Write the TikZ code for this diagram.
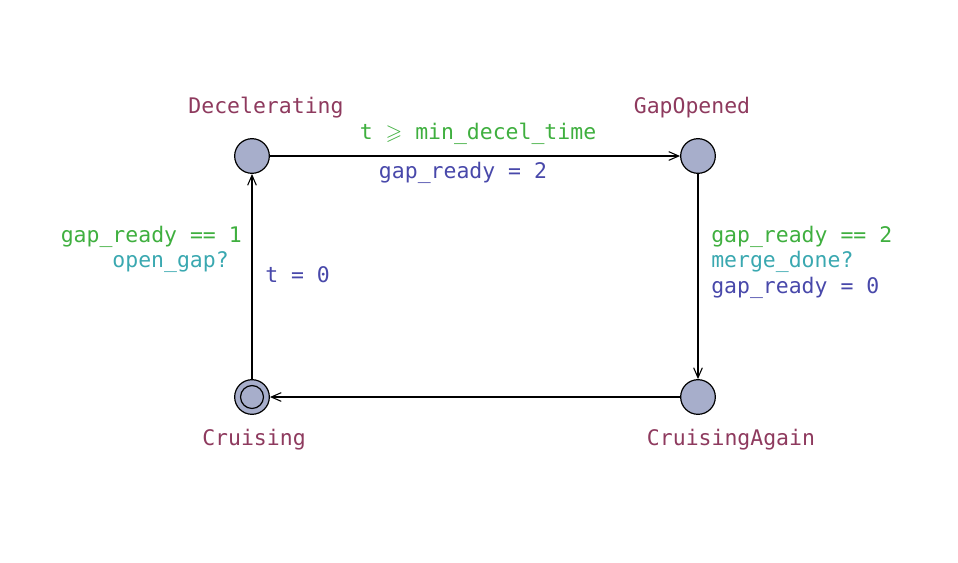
\documentclass[tikz,border=0pt]{standalone}
\usepackage{amssymb}
\usepackage{fontspec}
\setmonofont{DejaVu Sans Mono}
\usetikzlibrary{arrows.meta}

\definecolor{locfill}{HTML}{A7AECB}
\definecolor{namecol}{HTML}{8E3A5E}
\definecolor{guardcol}{HTML}{3FAF3F}
\definecolor{synccol}{HTML}{3AA8B0}
\definecolor{updcol}{HTML}{4848AA}

\begin{document}
\begin{tikzpicture}[x=0.75pt, y=-0.75pt,
    font=\ttfamily\fontsize{16.1}{18}\selectfont,
    loc/.style={draw, circle, fill=locfill, line width=0.9pt, minimum size=26pt, inner sep=0pt},
    locname/.style={text=namecol, inner sep=0pt},
    guard/.style={text=guardcol, inner sep=0pt},
    sync/.style={text=synccol, inner sep=0pt},
    upd/.style={text=updcol, inner sep=0pt},
    edge/.style={-{Straight Barb[length=7.5pt, width=6.5pt]}, line width=0.8pt}]
  \useasboundingbox (0,0) rectangle (958,562);

  % locations
  \node[loc] (dec) at (252,156) {};
  \node[loc] (gapo) at (698,156) {};
  \node[loc] (cru) at (252,397) {};
  \node[loc] (cruag) at (698,397) {};
  \draw[line width=0.9pt] (cru) circle[radius=8.6pt];

  % names
  \node[locname] (decname) at (266,108) {Decelerating};
  \node[locname] (gaponame) at (692,108) {GapOpened};
  \node[locname] (cruname) at (254,440) {Cruising};
  \node[locname] (cruagname) at (731,440) {CruisingAgain};

  % transitions
  \draw[edge] (dec) -- (gapo);
  \draw[edge] (gapo) -- (cruag);
  \draw[edge] (cruag) -- (cru);
  \draw[edge] (cru) -- (dec);

  % labels
  \node[guard] (g1) at (478,134) {t $\geqslant$ min\_decel\_time};
  \node[upd] (u1) at (463,173) {gap\_ready = 2};
  \node[guard, anchor=east] (g2) at (242,237) {gap\_ready == 1};
  \node[sync, anchor=east] (s2) at (229,262) {open\_gap?};
  \node[upd, anchor=west] (u2) at (265,275) {t = 0};
  \node[guard, anchor=west] (g3) at (711,237) {gap\_ready == 2};
  \node[sync, anchor=west] (s3) at (711,262) {merge\_done?};
  \node[upd, anchor=west] (u3) at (711,288) {gap\_ready = 0};
\end{tikzpicture}
\end{document}
